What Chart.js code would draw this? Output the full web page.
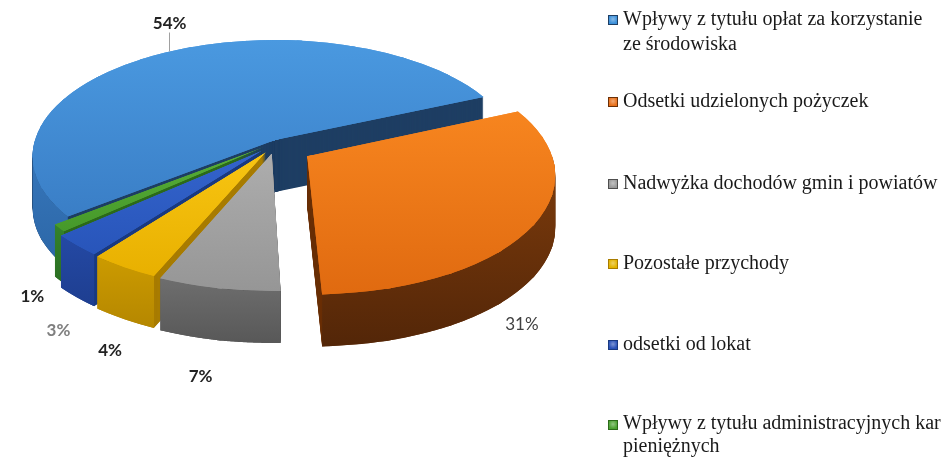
<!DOCTYPE html>
<html><head><meta charset="utf-8">
<script src="https://cdn.jsdelivr.net/npm/chart.js@4/dist/chart.umd.min.js"></script>
<style>
html,body{margin:0;padding:0;background:#fff;width:942px;height:457px;overflow:hidden;}
#wrap{position:absolute;left:0;top:0;width:600px;height:457px;}
#legend{position:absolute;left:0;top:0;width:942px;height:457px;font-family:"Liberation Serif","Times New Roman",serif;font-size:20px;color:#1a1a1a;}
.item{position:absolute;left:608px;line-height:25px;}
.item.tight{line-height:23px;}
.sw{position:absolute;left:0;width:8px;height:8px;}
.txt{position:absolute;left:15px;top:0;white-space:nowrap;}
</style></head><body>
<div id="wrap"><canvas id="c" width="600" height="457"></canvas></div>
<div id="legend"></div>
<script>
// ---- data ----
const categories = [
  "Wpływy z tytułu opłat za korzystanie ze środowiska",
  "Odsetki udzielonych pożyczek",
  "Nadwyżka dochodów gmin i powiatów",
  "Pozostałe przychody",
  "odsetki od lokat",
  "Wpływy z tytułu administracyjnych kar pieniężnych"
];
const legendLines = [
  ["Wpływy z tytułu opłat za korzystanie", "ze środowiska"],
  ["Odsetki udzielonych pożyczek"],
  ["Nadwyżka dochodów gmin i powiatów"],
  ["Pozostałe przychody"],
  ["odsetki od lokat"],
  ["Wpływy z tytułu administracyjnych kar", "pieniężnych"]
];
const shares = [54, 31, 7, 4, 3, 1];
const shareLabels = ["54%", "31%", "7%", "4%", "3%", "1%"];

// ---- styles ----
const topLight   = ["#4A99E0", "#F7851F", "#ADADAD", "#F8C512", "#3464CC", "#58AE38"];
const topDark    = ["#3A7EC6", "#E06A10", "#969696", "#E8B000", "#2855BA", "#46992A"];
const cutColors  = ["#1E3E63", "#6A3008", "#4E4E4E", "#A87C00", "#1A3A80", "#2C6A1A"];
const rimTop     = ["#3778BD", "#7E3C0C", "#6E6E6E", "#CC9B00", "#2449A4", "#34822A"];
const rimBottom  = ["#2C66A6", "#532608", "#585858", "#B58700", "#1E3E90", "#2B6F22"];
const swatch     = ["#3B8FD9", "#E8701A", "#9A9A9A", "#E3B400", "#2A52B8", "#4CA232"];
const labelColor = ["#222", "#404040", "#222", "#222", "#7F7F7F", "#222"];
const labelWeight= ["700", "400", "700", "700", "700", "700"];
const labelNudge = [[4,-29],[-12,100],[-18,88],[-14,83],[-18,85],[-27,69]];
const explode = [0, 0.26, 0.12, 0.12, 0.12, 0.09];
const legendTops = [5.5, 87.5, 169.5, 249.5, 330.5, 411];
const drawOrder = [0, 5, 4, 3, 2, 1];
const CX = 275, CY = 140, SX = 240, SY = 114, PERSP = 0.14, DEPTH = 52, KX = 0.6;
const STEP = Math.PI/12, EPS = 0.01, PULL = 6;

function proj(x, y){ const w = 1 - PERSP*y; return [CX + SX*x/w, CY + SY*y/w]; }
function explVec(i, m){ const e = explode[i]; return [e*KX*Math.cos(m), e*Math.sin(m)]; }

function affine2(o, Q0, b0, b1){
  const u0=[Math.cos(b0),Math.sin(b0)], u1=[Math.cos(b1),Math.sin(b1)];
  const p0=proj(o[0]+u0[0],o[1]+u0[1]), p1=proj(o[0]+u1[0],o[1]+u1[1]);
  const q0=[p0[0]-Q0[0],p0[1]-Q0[1]], q1=[p1[0]-Q0[0],p1[1]-Q0[1]];
  const det=u0[0]*u1[1]-u1[0]*u0[1];
  const inv=[[u1[1]/det,-u1[0]/det],[-u0[1]/det,u0[0]/det]];
  return [[q0[0]*inv[0][0]+q1[0]*inv[1][0], q0[0]*inv[0][1]+q1[0]*inv[1][1]],
          [q0[1]*inv[0][0]+q1[1]*inv[1][0], q0[1]*inv[0][1]+q1[1]*inv[1][1]]];
}

// perspective geometry of one slice, split in sub-wedges each mapped by an affine transform
function sliceGeom(el, i){
  const a0 = el.startAngle, a1 = el.endAngle, m = (a0+a1)/2;
  const o = explVec(i, m), Q0 = proj(o[0], o[1]);
  const n = Math.max(1, Math.ceil((a1-a0)/STEP));
  const wedges = [];
  for (let k = 0; k < n; k++){
    const b0 = a0 + (a1-a0)*k/n, b1 = a0 + (a1-a0)*(k+1)/n;
    wedges.push({b0, b1, M: affine2(o, Q0, b0, b1)});
  }
  return {a0, a1, m, o, Q0, wedges};
}
function rimPoint(g, a){
  let w = g.wedges.find(w => a <= w.b1 + 1e-9) || g.wedges[g.wedges.length-1];
  const c = Math.cos(a), s = Math.sin(a);
  return [g.Q0[0] + w.M[0][0]*c + w.M[0][1]*s, g.Q0[1] + w.M[1][0]*c + w.M[1][1]*s];
}

function imgGrad(ctx, mt, Y0, Y1, c0, c1){
  const gx = mt.b/(Y1-Y0), gy = mt.d/(Y1-Y0), c = (mt.f - Y0)/(Y1-Y0);
  const g2 = gx*gx + gy*gy;
  const p0x = -c*gx/g2, p0y = -c*gy/g2;
  const g = ctx.createLinearGradient(p0x, p0y, p0x + gx/g2, p0y + gy/g2);
  g.addColorStop(0, c0); g.addColorStop(1, c1);
  return g;
}

// draws the library's arc element through each sub-wedge transform
function drawSlice(ctx, el, g, dy, fill){
  const R = el.outerRadius, n = g.wedges.length, Q0 = g.Q0;
  g.wedges.forEach(({b0, b1, M}) => {
    const bm = (b0+b1)/2;
    const bx = M[0][0]*Math.cos(bm) + M[0][1]*Math.sin(bm), by = M[1][0]*Math.cos(bm) + M[1][1]*Math.sin(bm);
    const bl = Math.hypot(bx, by), pull = n > 1 ? PULL : 0, ex = n > 1 ? EPS : 0.002;
    ctx.save();
    ctx.beginPath();
    ctx.moveTo(Q0[0] - bx/bl*pull, Q0[1] + dy - by/bl*pull);
    [b0-ex, bm, b1+ex].forEach(t => {
      const ux = 1.5*Math.cos(t), uy = 1.5*Math.sin(t);
      ctx.lineTo(Q0[0] + M[0][0]*ux + M[0][1]*uy, Q0[1] + dy + M[1][0]*ux + M[1][1]*uy);
    });
    ctx.closePath();
    ctx.clip();
    ctx.translate(Q0[0], Q0[1] + dy);
    ctx.transform(M[0][0]/R, M[1][0]/R, M[0][1]/R, M[1][1]/R, 0, 0);
    ctx.translate(-el.x, -el.y);
    const f = (typeof fill === 'function') ? fill(ctx.getTransform()) : fill;
    const saved = el.options;
    el.options = Object.assign({}, saved, {backgroundColor: f, borderWidth: 0, offset: 0, spacing: 0});
    el.draw(ctx);
    el.options = saved;
    ctx.restore();
  });
}

const pie3d = {
  id: 'pie3d',
  beforeDatasetsDraw(chart){
    const ctx = chart.ctx;
    const meta = chart.getDatasetMeta(0);
    drawOrder.forEach(i => {
      const el = meta.data[i];
      const g = sliceGeom(el, i);
      // extruded body (cut faces colour)
      for (let d = DEPTH; d >= 1; d--) drawSlice(ctx, el, g, d, cutColors[i]);
      // visible outer rim: union of thin vertical strips
      for (let k = -1; k <= 2; k++){
        const s = Math.max(g.a0, 2*Math.PI*k), e = Math.min(g.a1, 2*Math.PI*k + Math.PI);
        if (e <= s) continue;
        const N = 120, top = [];
        for (let j = 0; j <= N; j++) top.push(rimPoint(g, s + (e-s)*j/N));
        let ymin = Infinity, ymax = -Infinity;
        top.forEach(p => { ymin = Math.min(ymin, p[1]); ymax = Math.max(ymax, p[1]); });
        const gr = ctx.createLinearGradient(0, ymin, 0, ymax + DEPTH);
        gr.addColorStop(0, rimTop[i]); gr.addColorStop(1, rimBottom[i]);
        ctx.save();
        ctx.beginPath();
        for (let j = 0; j < N; j++){
          const p = top[j], q = top[j+1];
          // orient every strip the same way so the non-zero fill is their union
          if (q[0] >= p[0]){
            ctx.moveTo(p[0], p[1]); ctx.lineTo(q[0], q[1]); ctx.lineTo(q[0], q[1] + DEPTH); ctx.lineTo(p[0], p[1] + DEPTH);
          } else {
            ctx.moveTo(q[0], q[1]); ctx.lineTo(p[0], p[1]); ctx.lineTo(p[0], p[1] + DEPTH); ctx.lineTo(q[0], q[1] + DEPTH);
          }
          ctx.closePath();
        }
        ctx.fillStyle = gr; ctx.fill('nonzero');
        ctx.restore();
      }
      // top face, vertical gradient in picture space
      let Y0 = Infinity, Y1 = -Infinity;
      for (let j = 0; j <= 60; j++){ const p = rimPoint(g, g.a0 + (g.a1-g.a0)*j/60); Y0 = Math.min(Y0, p[1]); Y1 = Math.max(Y1, p[1]); }
      Y0 = Math.min(Y0, g.Q0[1]); Y1 = Math.max(Y1, g.Q0[1]);
      for (let pass = 0; pass < 2; pass++)
        drawSlice(ctx, el, g, 0, mt => imgGrad(ctx, mt, Y0, Y1, topLight[i], topDark[i]));
    });
    // percentage labels
    meta.data.forEach((el, i) => {
      const m = (el.startAngle + el.endAngle)/2, o = explVec(i, m);
      const anchor = proj(o[0] + Math.cos(m), o[1] + Math.sin(m));
      const x = anchor[0] + labelNudge[i][0], y = anchor[1] + labelNudge[i][1];
      if (i === 0){
        ctx.save();
        ctx.strokeStyle = '#A0A0A0'; ctx.lineWidth = 1;
        const lx = Math.round(x) - 0.5;
        ctx.beginPath(); ctx.moveTo(lx, y + 9); ctx.lineTo(lx, anchor[1] - 1); ctx.stroke();
        ctx.restore();
      }
      ctx.save();
      ctx.font = labelWeight[i] + ' 17px Lato, "Open Sans", sans-serif';
      ctx.fillStyle = labelColor[i];
      ctx.textAlign = 'center'; ctx.textBaseline = 'middle';
      ctx.fillText(shareLabels[i], x, y);
      ctx.restore();
    });
    return false;
  }
};

new Chart(document.getElementById('c').getContext('2d'), {
  type: 'pie',
  data: { labels: categories, datasets: [{ data: shares, backgroundColor: topDark, borderWidth: 0, hoverOffset: 0 }] },
  options: {
    responsive: false, animation: false, rotation: 232.1, events: [],
    plugins: { legend: { display: false }, tooltip: { enabled: false } }
  },
  plugins: [pie3d]
});

// HTML legend
const lg = document.getElementById('legend');
legendLines.forEach((lines, i) => {
  const it = document.createElement('div');
  it.className = 'item' + (i === 5 ? ' tight' : '');
  it.style.top = legendTops[i] + 'px';
  const sw = document.createElement('div');
  sw.className = 'sw';
  sw.style.top = '9px';
  sw.style.background = 'radial-gradient(circle at 50% 40%, #ffffff66, #ffffff00 70%), ' + swatch[i];
  sw.style.border = '1px solid ' + cutColors[i];
  const tx = document.createElement('div');
  tx.className = 'txt';
  tx.innerHTML = lines.join('<br>');
  it.appendChild(sw); it.appendChild(tx);
  lg.appendChild(it);
});
</script>
</body></html>
